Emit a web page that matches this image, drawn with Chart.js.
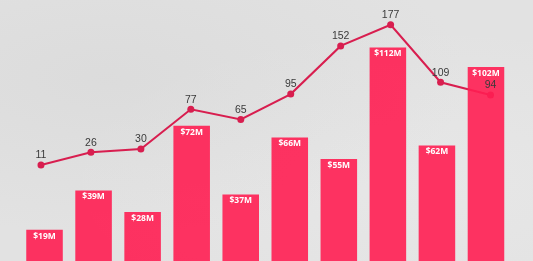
<!DOCTYPE html>
<html>
<head>
<meta charset="utf-8">
<script src="https://cdn.jsdelivr.net/npm/chart.js@4/dist/chart.umd.min.js"></script>
<style>
  html, body { margin: 0; padding: 0; overflow: hidden; }
  body {
    width: 533px; height: 261px;
    background-color: #e2e2e2;
    background-image:
      radial-gradient(ellipse at 20% 30%, rgba(205,205,205,0.3), rgba(0,0,0,0) 60%),
      radial-gradient(ellipse at 80% 70%, rgba(240,240,240,0.35), rgba(0,0,0,0) 60%);
  }
  #wrap { position: absolute; left: 0; top: 0; width: 533px; height: 261px; }
  canvas { display: block; }
</style>
</head>
<body>
<div id="wrap"><canvas id="c" width="533" height="261"></canvas></div>
<script>
const categories = ["1", "2", "3", "4", "5", "6", "7", "8", "9", "10"];
const revenue = [19, 39, 28, 72, 37, 66, 55, 112, 62, 102];
const revenueLabels = ["$19M", "$39M", "$28M", "$72M", "$37M", "$66M", "$55M", "$112M", "$62M", "$102M"];
const counts = [11, 26, 30, 77, 65, 95, 152, 177, 109, 94];

const linePoints = counts.map((v, i) => ({ x: i, y: v }));

const labelPlugin = {
  id: 'valueLabels',
  afterDatasetsDraw(chart) {
    const ctx = chart.ctx;
    ctx.save();
    const barMeta = chart.getDatasetMeta(0);
    ctx.font = 'bold 8.5px "Open Sans", sans-serif';
    ctx.fillStyle = '#ffffff';
    ctx.textAlign = 'center';
    ctx.textBaseline = 'middle';
    barMeta.data.forEach((el, i) => {
      ctx.fillText(revenueLabels[i], el.x, el.y + 6.5);
    });
    const lineMeta = chart.getDatasetMeta(1);
    ctx.font = '10.5px "Liberation Sans", Arial, sans-serif';
    ctx.fillStyle = '#3a3a3a';
    ctx.textBaseline = 'middle';
    lineMeta.data.forEach((el, i) => {
      ctx.fillText(String(counts[i]), el.x, el.y - 9.5);
    });
    ctx.restore();
  }
};

new Chart(document.getElementById('c'), {
  data: {
    labels: categories,
    datasets: [
      {
        type: 'bar',
        data: revenue,
        backgroundColor: 'rgba(255,30,82,0.9)',
        borderWidth: 0,
        categoryPercentage: 0.745,
        barPercentage: 1.0,
        grouped: false,
        xAxisID: 'x',
        yAxisID: 'y',
        order: 1
      },
      {
        type: 'line',
        data: linePoints,
        borderColor: '#d81e4f',
        backgroundColor: '#d81e4f',
        borderWidth: 2,
        pointRadius: 3.5,
        pointHoverRadius: 3.5,
        pointBorderWidth: 0,
        tension: 0,
        clip: false,
        xAxisID: 'x2',
        yAxisID: 'y2',
        order: 2
      }
    ]
  },
  options: {
    responsive: false,
    animation: false,
    layout: { autoPadding: false, padding: { left: 20, right: 22.5, top: 0, bottom: 0 } },
    plugins: { legend: { display: false }, tooltip: { enabled: false } },
    scales: {
      x: { display: false, offset: true, grid: { display: false } },
      x2: { type: 'linear', display: false, min: -0.42, max: 9.40 },
      y: { display: false, min: 3, max: 136.2 },
      y2: { display: false, min: -102.7, max: 206.4, position: 'right' }
    }
  },
  plugins: [labelPlugin]
});
</script>
</body>
</html>
